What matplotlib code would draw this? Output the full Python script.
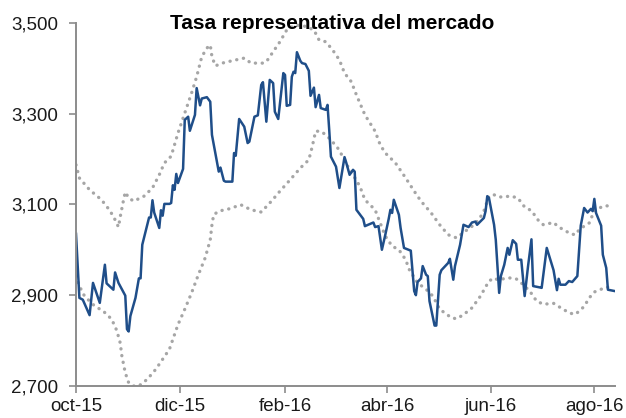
import matplotlib
matplotlib.use("Agg")
import matplotlib.pyplot as plt
import matplotlib.ticker as mticker
import pandas as pd

plt.rcParams['font.family'] = ['Liberation Sans', 'DejaVu Sans']

inicio = pd.Timestamp('2015-10-01')

# TRM (dias desde 1-oct-2015, valor)
dias_trm = [0, 2, 4, 8, 10, 14, 17, 18, 22, 23, 25, 29, 30, 31, 32, 35, 37, 38, 39, 43,
            44, 45, 46, 49, 50, 51, 52, 55, 56, 57, 58, 59, 60, 63, 64, 66, 67, 70, 71, 73,
            74, 77, 79, 80, 84, 85, 87, 88, 92, 93, 94, 96, 99, 101, 102, 105, 107, 109, 110, 112,
            114, 116, 117, 119, 122, 123, 124, 126, 127, 128, 129, 130, 132, 133, 135, 137, 138, 140, 141, 143,
            144, 147, 148, 149, 150, 153, 155, 158, 159, 161, 163, 164, 165, 169, 170, 175, 176, 178, 180, 182,
            184, 185, 186, 187, 190, 191, 193, 197, 199, 200, 201, 203, 204, 206, 207, 208, 211, 212, 214, 215,
            219, 220, 222, 223, 226, 228, 231, 233, 235, 236, 240, 241, 242, 243, 246, 247, 249, 250, 252, 254,
            255, 257, 259, 260, 262, 264, 266, 268, 269, 273, 274, 277, 281, 283, 284, 285, 288, 290, 292, 295,
            297, 299, 301, 303, 304, 305, 306, 309, 310, 312, 313, 317]
trm = [3035, 2894, 2890, 2856, 2927, 2883, 2967, 2926, 2912, 2950, 2927, 2899, 2825, 2820, 2854, 2894, 2937, 2937, 3011, 3071,
       3071, 3109, 3082, 3048, 3087, 3075, 3101, 3101, 3103, 3142, 3132, 3167, 3147, 3178, 3286, 3293, 3262, 3297, 3356, 3318,
       3333, 3336, 3326, 3253, 3172, 3181, 3152, 3150, 3150, 3213, 3207, 3288, 3271, 3235, 3238, 3293, 3296, 3363, 3369, 3282,
       3374, 3367, 3304, 3288, 3389, 3385, 3317, 3319, 3381, 3392, 3389, 3435, 3416, 3411, 3409, 3394, 3339, 3357, 3314, 3341,
       3312, 3308, 3319, 3264, 3205, 3183, 3136, 3204, 3192, 3165, 3176, 3172, 3088, 3068, 3052, 3060, 3050, 3052, 3000, 3033,
       3068, 3088, 3081, 3110, 3077, 3048, 3004, 2998, 2909, 2900, 2929, 2937, 2964, 2945, 2942, 2887, 2833, 2833, 2945, 2955,
       2971, 2980, 2934, 2964, 3011, 3055, 3050, 3060, 3062, 3055, 3070, 3085, 3118, 3114, 3055, 3022, 2905, 2942, 2967, 3004,
       2989, 3021, 3013, 2978, 2978, 2898, 2964, 3023, 2920, 2917, 2916, 3004, 2955, 2911, 2936, 2923, 2923, 2931, 2929, 2942,
       3053, 3092, 3082, 3090, 3085, 3112, 3081, 3053, 2989, 2960, 2912, 2909]

# banda superior
dias_sup = [0, 2, 8, 15, 20, 23, 25, 26, 28, 29, 31, 34, 40, 45, 49, 52, 56, 60, 64, 68,
            71, 74, 77, 79, 80, 82, 87, 94, 99, 103, 110, 112, 116, 120, 124, 129, 135, 140, 143, 147,
            151, 155, 158, 162, 165, 170, 176, 179, 182, 188, 194, 199, 203, 209, 214, 219, 224, 229, 232, 237,
            240, 243, 246, 249, 256, 260, 264, 268, 272, 275, 281, 284, 287, 291, 294, 296, 299, 302, 305, 308,
            311, 315]
banda_sup = [3187, 3158, 3132, 3110, 3086, 3066, 3050, 3072, 3110, 3127, 3114, 3107, 3118, 3136, 3165, 3191, 3206, 3257, 3301, 3345,
             3381, 3425, 3444, 3451, 3425, 3405, 3412, 3418, 3422, 3411, 3411, 3414, 3436, 3458, 3484, 3495, 3492, 3484, 3462, 3458,
             3440, 3418, 3389, 3370, 3341, 3297, 3261, 3231, 3213, 3191, 3158, 3129, 3107, 3081, 3055, 3033, 3026, 3041, 3048, 3066,
             3085, 3118, 3121, 3116, 3118, 3114, 3094, 3086, 3065, 3055, 3060, 3050, 3044, 3035, 3033, 3044, 3052, 3059, 3086, 3092,
             3097, 3096]

# banda inferior
dias_inf = [0, 2, 5, 11, 16, 21, 24, 26, 27, 29, 31, 34, 37, 42, 47, 51, 55, 56, 60, 64,
            68, 72, 76, 79, 80, 81, 84, 90, 97, 103, 109, 115, 120, 126, 132, 137, 139, 141, 144, 147,
            150, 154, 157, 160, 163, 167, 170, 176, 182, 186, 190, 194, 196, 201, 206, 210, 214, 221, 224, 228,
            233, 238, 243, 246, 248, 255, 259, 262, 267, 271, 275, 281, 284, 287, 291, 294, 296, 299, 302, 305,
            309, 312, 315]
banda_inf = [2942, 2920, 2898, 2876, 2865, 2847, 2822, 2795, 2766, 2729, 2707, 2700, 2700, 2715, 2737, 2759, 2781, 2792, 2835, 2869,
             2905, 2945, 2982, 3022, 3055, 3077, 3085, 3090, 3099, 3088, 3083, 3107, 3129, 3154, 3180, 3198, 3227, 3261, 3261, 3253,
             3242, 3224, 3205, 3183, 3165, 3140, 3110, 3088, 3030, 3008, 3000, 2978, 2957, 2927, 2913, 2898, 2869, 2850, 2848, 2857,
             2872, 2898, 2931, 2938, 2934, 2938, 2936, 2927, 2909, 2887, 2880, 2882, 2875, 2868, 2860, 2858, 2865, 2875, 2894, 2907,
             2913, 2918, 2916]

etiquetas_x = ['oct-15', 'dic-15', 'feb-16', 'abr-16', 'jun-16', 'ago-16']
fechas_x = ['2015-10-01', '2015-12-01', '2016-02-01', '2016-04-01', '2016-06-01', '2016-08-01']
ticks_y = [2700, 2900, 3100, 3300, 3500]


def a_fechas(dias):
    return inicio + pd.to_timedelta(dias, unit='D')


gris = '#a6a6a6'
azul = '#1f4e89'
eje = '#8c8c8c'

fig = plt.figure(figsize=(6.26, 4.18), dpi=100)
ax = fig.add_axes([0.1214, 0.0766, 0.8606, 0.8691])

punteado = dict(color=gris, linewidth=2.4, linestyle=(0, (0.05, 2.0)),
                dash_capstyle='round', solid_capstyle='round')
ax.plot(a_fechas(dias_sup), banda_sup, **punteado)
ax.plot(a_fechas(dias_inf), banda_inf, **punteado)
ax.plot(a_fechas(dias_trm), trm, color=azul, linewidth=1.8)

ax.set_ylim(2700, 3500)
ax.set_xlim(inicio, inicio + pd.Timedelta(days=317))
ax.set_yticks(ticks_y)
ax.yaxis.set_major_formatter(mticker.FuncFormatter(lambda v, p: f'{int(v):,}'))
ax.set_xticks(pd.to_datetime(fechas_x))
ax.set_xticklabels(etiquetas_x)

for s in ['top', 'right']:
    ax.spines[s].set_visible(False)
for s in ['left', 'bottom']:
    ax.spines[s].set_color(eje)
    ax.spines[s].set_linewidth(1.4)
ax.tick_params(axis='both', colors=eje, length=5, width=1.2, labelsize=13.5, labelcolor='#1a1a1a')
ax.tick_params(axis='y', pad=8)
ax.tick_params(axis='x', pad=4)

fig.text(0.53, 0.931, 'Tasa representativa del mercado', ha='center', va='baseline',
         fontsize=15, fontweight='bold')

fig.savefig('out.png', dpi=100)
